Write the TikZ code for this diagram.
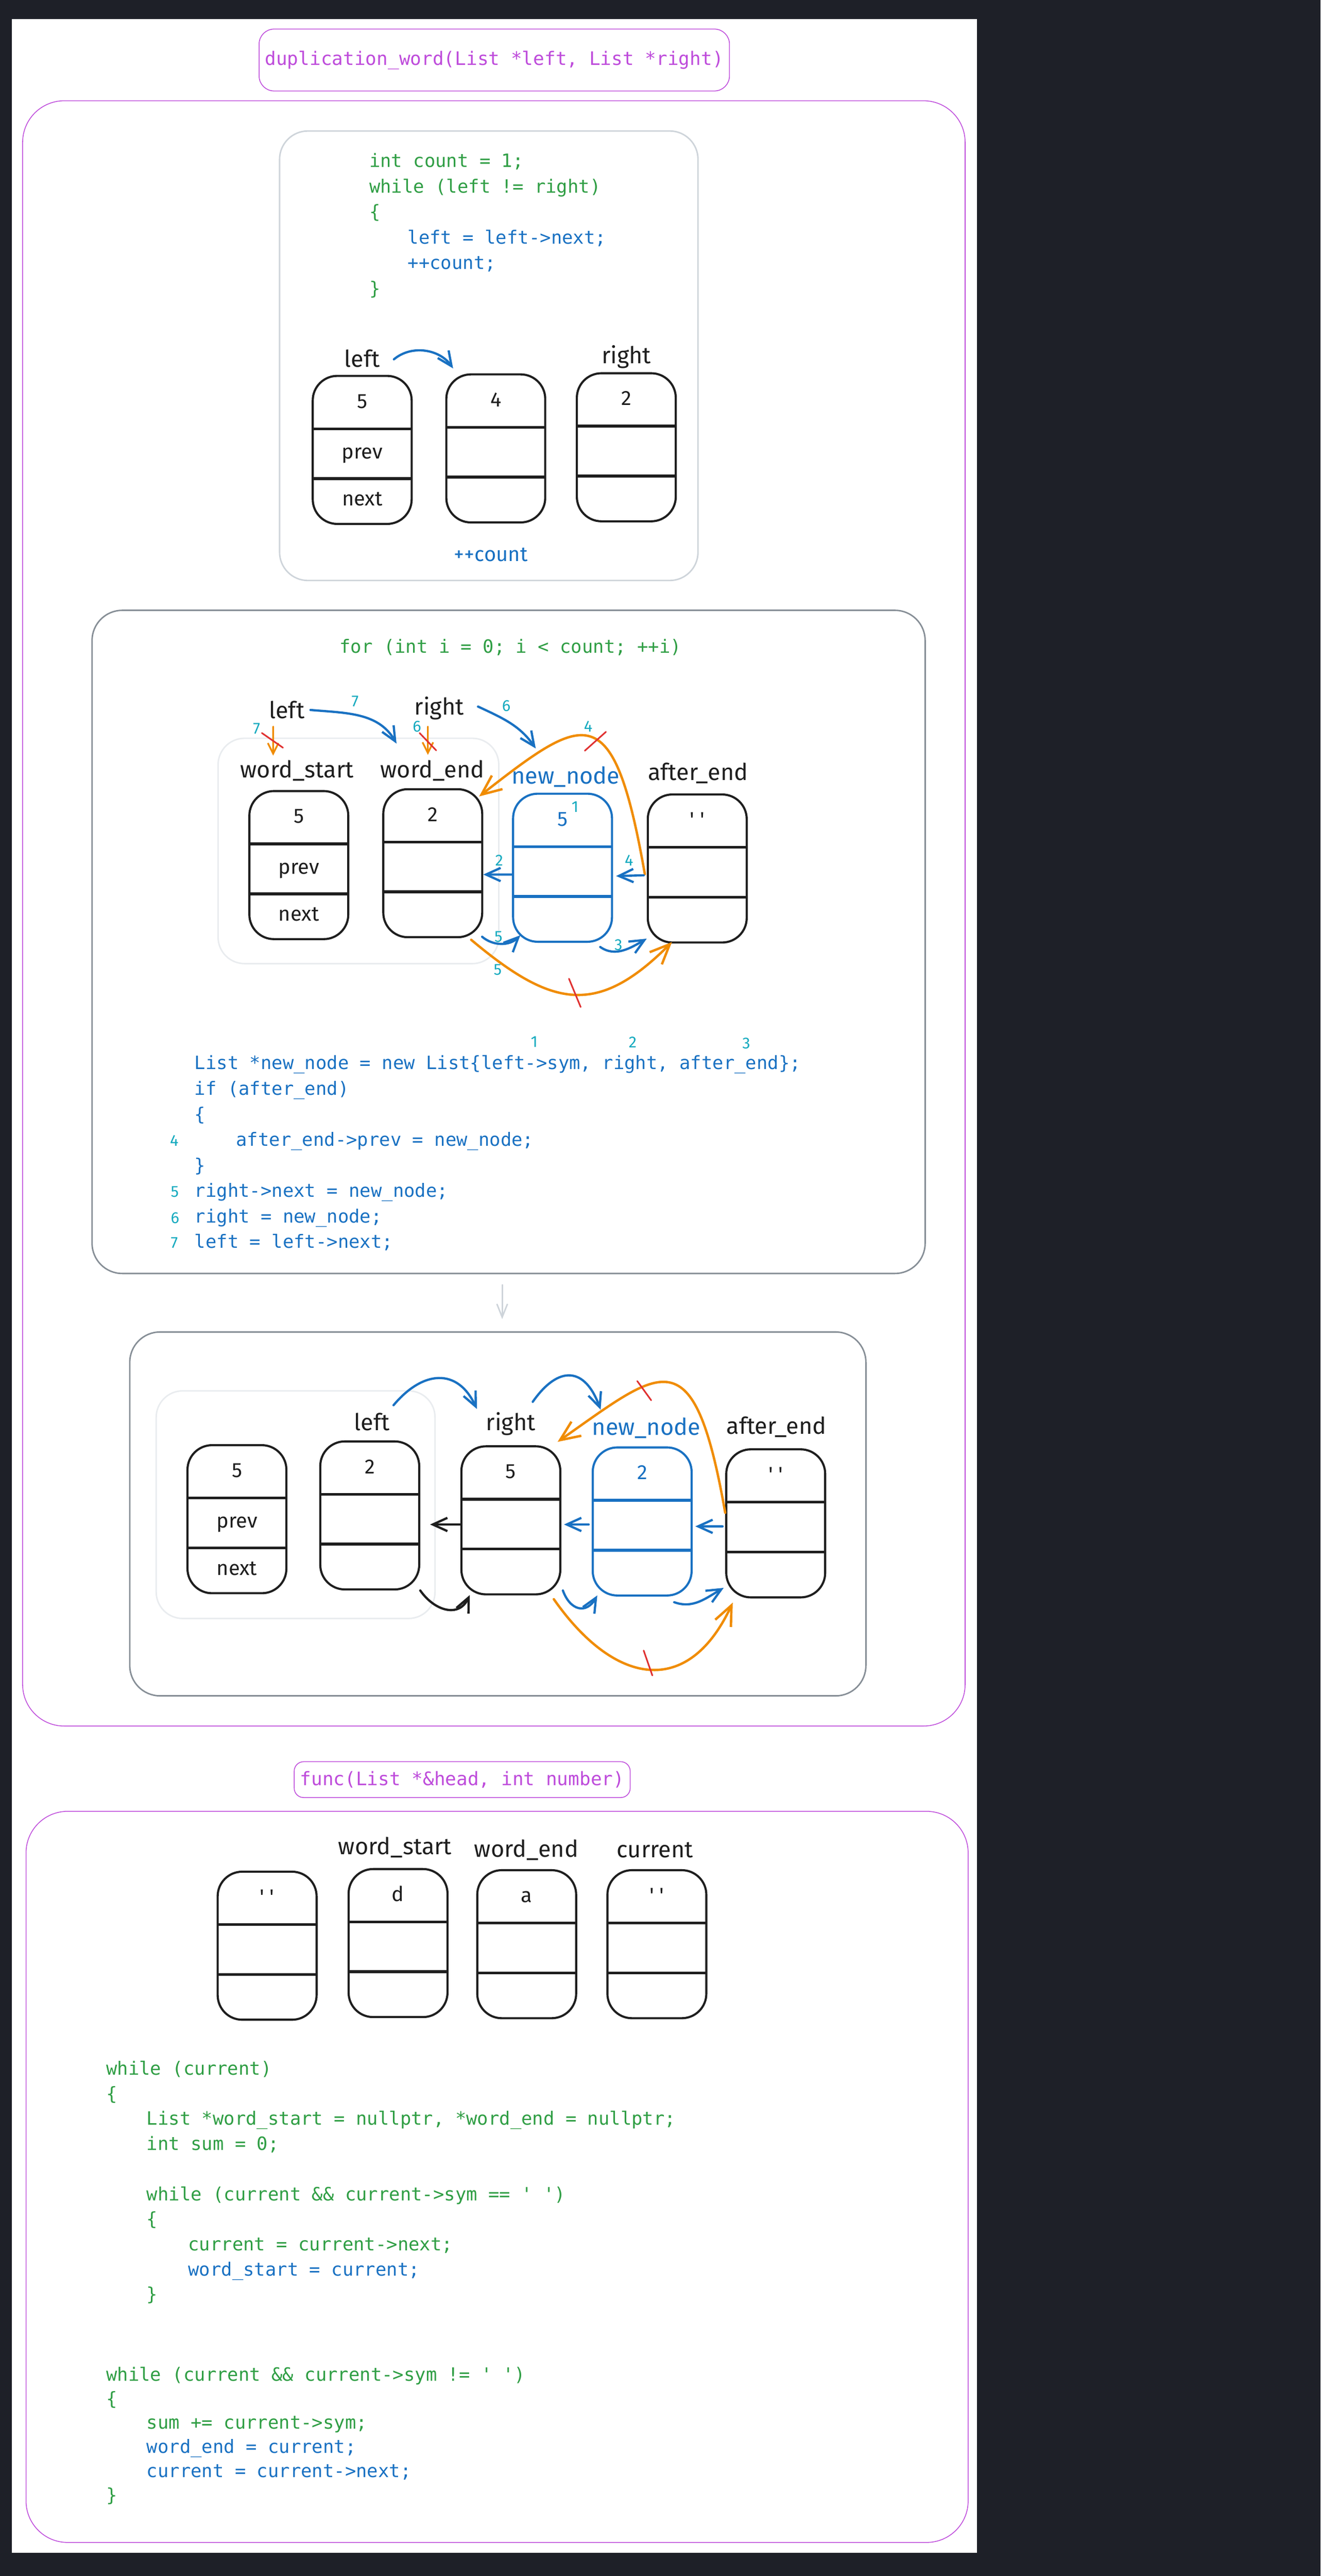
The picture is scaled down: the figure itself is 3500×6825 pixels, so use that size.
\documentclass[tikz,border=0pt]{standalone}
\usepackage{fontspec}
\usepackage{tikz}
\usetikzlibrary{arrows.meta, positioning}
\newfontfamily\codefont{DejaVu Sans Mono}
\newfontfamily\handfont{Fira Sans}
\definecolor{bgdark}{HTML}{1E2028}
\definecolor{ink}{HTML}{1E1E1E}
\definecolor{exblue}{HTML}{1971C2}
\definecolor{exgreen}{HTML}{2F9E44}
\definecolor{exorange}{HTML}{F08C00}
\definecolor{exred}{HTML}{E03131}
\definecolor{excyan}{HTML}{15AABF}
\definecolor{exviolet}{HTML}{BE4BDB}
\definecolor{palegray}{HTML}{CED4DA}
\definecolor{midgray}{HTML}{868E96}
\definecolor{faintgray}{HTML}{E9ECEF}

\tikzset{
	elem/.style={draw=#1, line width=1.6pt, rounded corners=0.65cm, minimum width=2.62cm, minimum height=3.92cm, inner sep=0pt,
		path picture={
			\draw[#1, line width=2.1pt] ([yshift=-1.4cm]path picture bounding box.north west) -- ([yshift=-1.4cm]path picture bounding box.north east);
			\draw[#1, line width=2.1pt] ([yshift=-2.72cm]path picture bounding box.north west) -- ([yshift=-2.72cm]path picture bounding box.north east);}},
	elem/.default=ink,
	val/.style={font=\handfont\fontsize{15.5}{18}\selectfont, text=#1, inner sep=0pt, anchor=base},
	val/.default=ink,
	lbl/.style={font=\handfont\fontsize{17.5}{20}\selectfont, text=ink, inner sep=1pt},
	num/.style={font=\handfont\fontsize{12}{14}\selectfont, text=excyan, inner sep=0pt},
	% base of a code block = baseline of its last line
	code/.style={font=\codefont\fontsize{13.8}{19.23}\selectfont, align=left, anchor=base west, inner sep=0pt},
	ttl/.style={draw=exviolet, line width=0.6pt, text=exviolet, font=\codefont\fontsize{14}{16}\selectfont},
	frame/.style={draw=exviolet, line width=0.6pt, rounded corners=1.1cm},
	pale/.style={draw=palegray, line width=1.1pt, rounded corners=0.75cm},
	mid/.style={draw=midgray, line width=1.1pt, rounded corners=0.8cm},
	faint/.style={draw=faintgray, line width=1.1pt, rounded corners=0.7cm},
	barrow/.style={draw=exblue, line width=1.7pt, line cap=round, -{Straight Barb[length=11pt,width=10pt]}},
	karrow/.style={draw=ink, line width=1.7pt, line cap=round, -{Straight Barb[length=11pt,width=10pt]}},
	oarrow/.style={draw=exorange, line width=1.8pt, line cap=round, -{Straight Barb[length=15pt,width=13pt]}},
	oshort/.style={draw=exorange, line width=1.3pt, line cap=round, -{Straight Barb[length=8pt,width=8pt]}},
	garrow/.style={draw=palegray, line width=1.1pt, line cap=round, -{Straight Barb[length=10pt,width=8pt]}},
	cross/.style={draw=exred, line width=1.2pt, line cap=round}
}

\begin{document}
\begin{tikzpicture}[x=0.01cm, y=0.01cm]
	\useasboundingbox (0,0) rectangle (3500,-6825);
	\fill[bgdark] (0,0) rectangle (3500,-6825);
	\fill[white] (31,-51) rectangle (2590,-6764);

	%duplication_word
	\node[ttl, rounded corners=0.4cm, minimum width=12.46cm, minimum height=1.64cm] (ttlA) at (1310,-159) {duplication\_word(List *left, List *right)};
	\draw[frame] (60,-267) rectangle (2558,-4573);

	%count loop
	\draw[pale] (741,-347) rectangle (1850,-1538);
	\node[code] (codeA) at (978,-781) {\color{exgreen}int count = 1;\\
		\color{exgreen}while (left != right)\\
		\color{exgreen}\{\\
		\hspace*{1.02cm}\color{exblue}left = left->next;\\
		\hspace*{1.02cm}\color{exblue}++count;\\
		\color{exgreen}\}};
	\foreach \nm/\x/\y/\v in {a1/960/1192/5, a2/1314/1188/4, a3/1660/1185/2}{
		\node[elem] (\nm) at (\x,-\y) {};
		\node[val] (\nm val) at ([yshift=-0.88cm]\nm.north) {\v};
	}
	\node[val] (a1p) at ([yshift=-2.22cm]a1.north) {prev};
	\node[val] (a1n) at ([yshift=-3.47cm]a1.north) {next};
	\node[lbl] (aLeft) at (960,-950) {left};
	\node[lbl] (aRight) at (1660,-946) {right};
	\node[val=exblue, anchor=center] (aCount) at (1301,-1470) {++count};
	\draw[barrow] ([xshift=0.84cm,yshift=-0.02cm]aLeft.center) to[out=40,in=125] ([xshift=-1.13cm,yshift=0.13cm]a2.north);

	%insert loop
	\draw[mid] (244,-1617) rectangle (2452,-3374);
	\node[code, anchor=base] (forB) at (1353,-1730) {\color{exgreen}for (int i = 0; i < count; ++i)};
	\draw[faint] (578,-1956) rectangle (1322,-2553);
	\foreach \nm/\x/\y/\v/\c in {ws/792/2292/5/ink, we/1147/2287/2/ink, nn/1491/2299/5/exblue, ae/1848/2301/{\textquotesingle\ \textquotesingle}/ink}{
		\node[elem=\c] (\nm) at (\x,-\y) {};
		\node[val=\c] (\nm val) at ([yshift=-0.88cm]\nm.north) {\v};
	}
	\node[val] (wsp) at ([yshift=-2.22cm]ws.north) {prev};
	\node[val] (wsn) at ([yshift=-3.47cm]ws.north) {next};
	\node[num] (nnOne) at (1524,-2138) {1};
	\node[lbl] (bLeft) at (760,-1881) {left};
	\node[lbl] (bRight) at (1164,-1876) {right};
	\node[lbl] (bWs) at (787,-2042) {word\_start};
	\node[lbl] (bWe) at (1146,-2042) {word\_end};
	\node[lbl, text=exblue] (bNn) at (1499,-2058) {new\_node};
	\node[lbl] (bAe) at (1850,-2048) {after\_end};

	\draw[barrow] ([xshift=0.63cm]bLeft.center) to[out=-5,in=120] ([xshift=-0.96cm,yshift=1.18cm]we.north);
	\draw[barrow] ([xshift=1.03cm,yshift=0.04cm]bRight.center) to[out=-25,in=125] ([xshift=-0.71cm,yshift=1.17cm]nn.north);
	\draw[oshort] ([xshift=-0.36cm,yshift=-0.44cm]bLeft.center) -- ([xshift=-0.63cm,yshift=0.4cm]bWs.center);
	\draw[cross] (694,-1942) -- (750,-1981);
	\draw[oshort] ([xshift=-0.3cm,yshift=-0.49cm]bRight.center) -- ([xshift=-0.12cm,yshift=0.42cm]bWe.center);
	\draw[cross] (1112,-1942) -- (1156,-1988);
	\draw[oarrow] ([xshift=-0.05cm,yshift=-0.15cm]ae.west) to[out=100,in=38,out distance=4.8cm,in distance=3.6cm] ([xshift=-0.11cm,yshift=-0.22cm]we.north east);
	\draw[cross] (1550,-1989) -- (1606,-1939);
	\draw[barrow] ([yshift=-0.18cm]nn.west) -- ([yshift=-0.3cm]we.east);
	\draw[barrow] ([xshift=-0.08cm,yshift=-0.18cm]ae.west) -- ([xshift=0.08cm,yshift=-0.22cm]nn.east);
	\draw[barrow] ([xshift=-0.03cm,yshift=0.04cm]we.south east) to[out=-40,in=225] ([xshift=0.22cm,yshift=0.2cm]nn.south west);
	\draw[barrow] ([xshift=-0.34cm,yshift=-0.11cm]nn.south east) to[out=-35,in=210] ([yshift=0.13cm]ae.south west);
	\draw[oarrow] ([xshift=-0.32cm,yshift=-0.04cm]we.south east) to[out=-40,in=-135,out distance=2.8cm,in distance=2.8cm] ([xshift=-0.67cm,yshift=0.04cm]ae.south);
	\draw[cross] (1508,-2593) -- (1539,-2668);

	%step numbers
	\node[num] (s7a) at (941,-1858) {7};
	\node[num] (s6a) at (1342,-1870) {6};
	\node[num] (s7b) at (680,-1931) {7};
	\node[num] (s6b) at (1105,-1925) {6};
	\node[num] (s4a) at (1559,-1924) {4};
	\node[num] (s2) at (1323,-2279) {2};
	\node[num] (s4b) at (1667,-2279) {4};
	\node[num] (s5a) at (1321,-2482) {5};
	\node[num] (s3) at (1639,-2503) {3};
	\node[num] (s5b) at (1319,-2570) {5};

	\node[num] (sup1) at (1416,-2760) {1};
	\node[num] (sup2) at (1677,-2762) {2};
	\node[num] (sup3) at (1978,-2765) {3};
	\node[code] (codeB) at (515,-3307) {\color{exblue}List *new\_node = new List\{left->sym, right, after\_end\};\\
		\color{exblue}if (after\_end)\\
		\color{exblue}\{\\
		\hspace*{1.1cm}\color{exblue}after\_end->prev = new\_node;\\
		\color{exblue}\}\\
		\color{exblue}right->next = new\_node;\\
		\color{exblue}right = new\_node;\\
		\color{exblue}left = left->next;};
	\node[num, anchor=base west] (l4) at (450,-3037) {4};
	\node[num, anchor=base west] (l5) at (452,-3172) {5};
	\node[num, anchor=base west] (l6) at (452,-3241) {6};
	\node[num, anchor=base west] (l7) at (452,-3307) {7};

	\coordinate (bOut) at (1331,-3404);
	\coordinate (cIn) at (1331,-3495);
	\draw[garrow] (bOut) -- (cIn);

	%after insert
	\draw[mid] (344,-3529) rectangle (2295,-4493);
	\draw[faint] (414,-3685) rectangle (1153,-4288);
	\foreach \nm/\x/\y/\v/\c in {c1/628/4025/5/ink, c2/980/4015/2/ink, c3/1354/4028/5/ink, c4/1702/4031/2/exblue, c5/2056/4036/{\textquotesingle\ \textquotesingle}/ink}{
		\node[elem=\c] (\nm) at (\x,-\y) {};
		\node[val=\c] (\nm val) at ([yshift=-0.88cm]\nm.north) {\v};
	}
	\node[val] (c1p) at ([yshift=-2.22cm]c1.north) {prev};
	\node[val] (c1n) at ([yshift=-3.47cm]c1.north) {next};
	\node[lbl] (cLeft) at (986,-3767) {left};
	\node[lbl] (cRight) at (1354,-3773) {right};
	\node[lbl, text=exblue] (cNn) at (1713,-3783) {new\_node};
	\node[lbl] (cAe) at (2058,-3781) {after\_end};

	\draw[barrow] ([xshift=0.57cm,yshift=0.44cm]cLeft.center) to[out=50,in=115,looseness=1.4] ([xshift=-0.9cm,yshift=0.4cm]cRight.center);
	\draw[barrow] ([xshift=0.58cm,yshift=0.59cm]cRight.center) to[out=55,in=110,looseness=1.7] ([xshift=-1.21cm,yshift=0.48cm]cNn.center);
	\draw[oarrow] ([yshift=0.28cm]c5.west) to[out=100,in=35,out distance=4.8cm,in distance=3.4cm] ([xshift=-0.1cm,yshift=0.09cm]c3.north east);
	\draw[cross] (1689,-3659) -- (1726,-3710);
	\draw[karrow] ([yshift=-0.11cm]c3.west) -- ([xshift=0.26cm,yshift=-0.24cm]c2.east);
	\draw[barrow] ([xshift=-0.08cm,yshift=-0.08cm]c4.west) -- ([xshift=0.07cm,yshift=-0.11cm]c3.east);
	\draw[barrow] ([xshift=-0.07cm,yshift=-0.08cm]c5.west) -- ([xshift=0.07cm,yshift=-0.13cm]c4.east);
	\draw[karrow] (c2.south east) to[out=-55,in=-115,looseness=1.3] ([xshift=0.25cm,yshift=0.01cm]c3.south west);
	\draw[barrow] ([xshift=0.04cm,yshift=0.13cm]c3.south east) to[out=-70,in=-120,looseness=1.6] ([xshift=0.15cm,yshift=0.03cm]c4.south west);
	\draw[barrow] ([xshift=0.85cm,yshift=-0.15cm]c4.south) to[out=-20,in=210] ([xshift=-0.04cm,yshift=0.28cm]c5.south west);
	\draw[oarrow] ([xshift=-0.2cm,yshift=-0.1cm]c3.south east) to[out=-55,in=-115,out distance=2.8cm,in distance=2.8cm] ([xshift=0.2cm,yshift=-0.11cm]c5.south west);
	\draw[cross] (1706,-4373) -- (1729,-4439);

	%func
	\node[ttl, rounded corners=0.25cm, minimum width=8.9cm, minimum height=0.95cm] (ttlB) at (1225,-4715) {func(List *\&head, int number)};
	\draw[frame] (69,-4799) rectangle (2566,-6736);
	\foreach \nm/\x/\y/\v in {d1/708/5155/{\textquotesingle\ \textquotesingle}, d2/1055/5148/d, d3/1396/5151/a, d4/1741/5151/{\textquotesingle\ \textquotesingle}}{
		\node[elem] (\nm) at (\x,-\y) {};
		\node[val] (\nm val) at ([yshift=-0.88cm]\nm.north) {\v};
	}
	\node[lbl] (dWs) at (1047,-4895) {word\_start};
	\node[lbl] (dWe) at (1395,-4902) {word\_end};
	\node[lbl] (dCur) at (1736,-4902) {current};

	\node[code, font=\codefont\fontsize{13.8}{18.92}\selectfont] (codeD) at (281,-6096) {\color{exgreen}while (current)\\
		\color{exgreen}\{\\
		\hspace*{1.07cm}\color{exgreen}List *word\_start = nullptr, *word\_end = nullptr;\\
		\hspace*{1.07cm}\color{exgreen}int sum = 0;\\
		~\\
		\hspace*{1.07cm}\color{exgreen}while (current \&\& current->sym == \textquotesingle\ \textquotesingle)\\
		\hspace*{1.07cm}\color{exgreen}\{\\
		\hspace*{2.17cm}\color{exgreen}current = current->next;\\
		\hspace*{2.17cm}\color{exblue}word\_start = current;\\
		\hspace*{1.07cm}\color{exgreen}\}};
	\node[code, font=\codefont\fontsize{13.8}{18.21}\selectfont] (codeE) at (281,-6628) {\color{exgreen}while (current \&\& current->sym != \textquotesingle\ \textquotesingle)\\
		\color{exgreen}\{\\
		\hspace*{1.07cm}\color{exgreen}sum += current->sym;\\
		\hspace*{1.07cm}\color{exblue}word\_end = current;\\
		\hspace*{1.07cm}\color{exblue}current = current->next;\\
		\color{exgreen}\}};
\end{tikzpicture}
\end{document}
